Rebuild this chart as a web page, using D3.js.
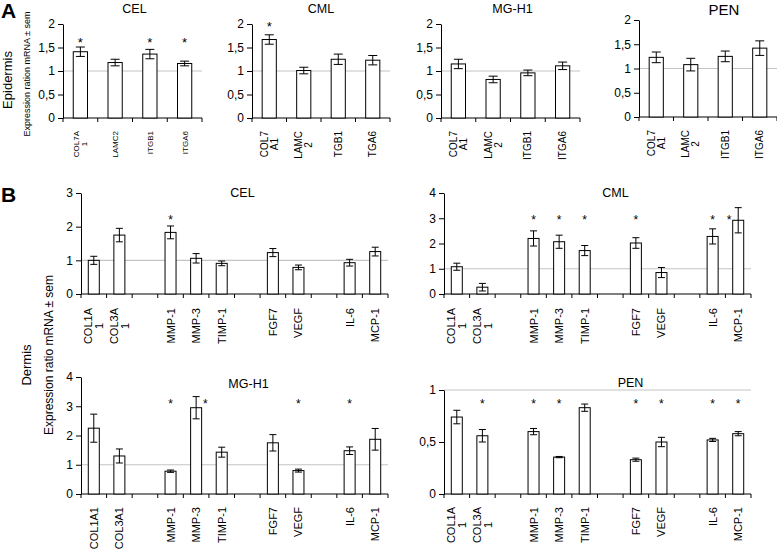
<!DOCTYPE html>
<html><head><meta charset="utf-8">
<script src="https://cdn.jsdelivr.net/npm/d3@7"></script>
<style>
body{margin:0;background:#fff}
svg{display:block}
text{font-family:"Liberation Sans",Arial,Helvetica,sans-serif;fill:#000}
</style>
</head><body>
<svg id="c" width="777" height="554"></svg>
<script>
// ---------- DATA ----------
// Panel A (Epidermis)
const aGenes = ["COL7A1","LAMC2","ITGB1","ITGA6"];
const aLabelsCEL = ["COL7A\n1","LAMC2","ITGB1","ITGA6"];
const aLabelsCML = ["COL7\nA1","LAMC\n2","TGB1","TGA6"];
const aLabelsMG  = ["COL7\nA1","LAMC\n2","ITGB1","ITGA6"];
const aLabelsPEN = ["COL7\nA1","LAMC\n2","ITGB1","ITGA6"];
const aYTicks = [0,0.5,1,1.5,2];
const aCEL = [1.41,1.18,1.36,1.16], aCELerr = [0.10,0.07,0.10,0.05], aCELsig = [1,0,1,1];
const aCML = [1.67,1.01,1.25,1.23], aCMLerr = [0.10,0.07,0.11,0.10], aCMLsig = [1,0,0,0];
const aMG  = [1.15,0.82,0.96,1.11], aMGerr  = [0.10,0.07,0.06,0.08], aMGsig  = [0,0,0,0];
const aPEN = [1.23,1.08,1.25,1.42], aPENerr = [0.11,0.13,0.11,0.15], aPENsig = [0,0,0,0];
const aSigLevel = [1.66, 2.0, 2.0, 2.0];

// Panel B (Dermis)
const bGenes = ["COL1A1","COL3A1","gap1","MMP-1","MMP-3","TIMP-1","gap2","FGF7","VEGF","gap3","IL-6","MCP-1"];
const bLabelsWrap = ["COL1A\n1","COL3A\n1","","MMP-1","MMP-3","TIMP-1","","FGF7","VEGF","","IL-6","MCP-1"];
const bLabelsFlat = ["COL1A1","COL3A1","","MMP-1","MMP-3","TIMP-1","","FGF7","VEGF","","IL-6","MCP-1"];
const bCEL = [1.00,1.75,null,1.83,1.06,0.91,null,1.23,0.79,null,0.93,1.26];
const bCELerr = [0.12,0.20,null,0.19,0.14,0.07,null,0.12,0.07,null,0.10,0.13];
const bCELsig = [0,0,0,1,0,0,0,0,0,0,0,0];
const bCML = [1.08,0.27,null,2.20,2.07,1.72,null,2.02,0.85,null,2.28,2.92];
const bCMLerr = [0.14,0.15,null,0.30,0.26,0.20,null,0.21,0.20,null,0.30,0.50];
const bCMLsig = [0,0,0,1,1,1,0,1,0,0,1,1];
const bMG = [2.25,1.30,null,0.78,2.95,1.43,null,1.75,0.80,null,1.48,1.87];
const bMGerr = [0.48,0.24,null,0.04,0.38,0.17,null,0.28,0.05,null,0.13,0.37];
const bMGsig = [0,0,0,1,1,0,0,0,1,0,1,0];
const bPEN = [0.74,0.56,null,0.60,0.355,0.83,null,0.33,0.50,null,0.52,0.58];
const bPENerr = [0.065,0.06,null,0.03,0.006,0.035,null,0.015,0.045,null,0.015,0.02];
const bPENsig = [0,1,0,1,1,0,0,1,1,0,1,1];
const bYTicksCEL = [0,1,2,3], bYTicksCML = [0,1,2,3,4], bYTicksMG = [0,1,2,3,4], bYTicksPEN = [0,0.5,1];
const bSigLevel = [2.28, 3.05, 3.16, 0.89];
const titles = ["CEL","CML","MG-H1","PEN"];

// ---------- DRAW ----------
const svg = d3.select("#c");
const fmt = v => String(v).replace(".", ",");

function rotLabel(g, x, yTop, text, fs) {
  const lines = text.split("\n");
  const n = lines.length, lh = fs * 0.98;
  const t = g.append("g").attr("transform", `translate(${x},${yTop}) rotate(-90)`);
  const nodes = lines.map((ln, i) => t.append("text")
    .attr("font-size", fs).attr("text-anchor", "middle")
    .attr("y", 0.36 * fs + (i - (n - 1) / 2) * lh).text(ln));
  const maxLen = d3.max(nodes, s => s.node().getComputedTextLength());
  nodes.forEach(s => s.attr("x", -maxLen / 2));
}

function chart(cfg) {
  const g = svg.append("g");
  const x = d3.scaleBand().domain(cfg.genes).range([cfg.x0, cfg.x1]).padding(0);
  const ymax = d3.max(cfg.ticks);
  const y = d3.scaleLinear().domain([0, ymax]).range([cfg.yBot, cfg.yTop]);
  const step = x.step();
  // reference line at 1
  g.append("line").attr("x1", cfg.x0).attr("x2", cfg.x1)
    .attr("y1", y(1)).attr("y2", y(1)).attr("stroke", "#c4c4c4").attr("stroke-width", 1.2);
  // y axis
  const ya = d3.axisLeft(y).tickValues(cfg.ticks).tickFormat(fmt).tickSize(5).tickSizeOuter(0).tickPadding(3);
  const yg = g.append("g").attr("transform", `translate(${cfg.x0},0)`).call(ya);
  yg.selectAll("text").attr("font-size", cfg.tickFs).attr("font-family", null);
  yg.selectAll("line,path").attr("stroke", "#000");
  // x axis
  g.append("line").attr("x1", cfg.x0).attr("x2", cfg.x1).attr("y1", y(0)).attr("y2", y(0)).attr("stroke", "#000");
  d3.range(cfg.genes.length + 1).forEach(i => {
    const xx = cfg.x0 + i * step;
    g.append("line").attr("x1", xx).attr("x2", xx).attr("y1", y(0)).attr("y2", y(0) + 4).attr("stroke", "#000");
  });
  const bw = step * cfg.barFrac, cap = cfg.cap;
  cfg.genes.forEach((gn, i) => {
    const v = cfg.vals[i];
    const cx = x(gn) + step / 2;
    if (v != null) {
      const e = cfg.errs[i];
      g.append("rect").attr("x", cx - bw / 2).attr("y", y(v)).attr("width", bw).attr("height", y(0) - y(v))
        .attr("fill", "#fff").attr("stroke", "#000").attr("stroke-width", 1);
      g.append("line").attr("x1", cx).attr("x2", cx).attr("y1", y(v + e)).attr("y2", y(v - e)).attr("stroke", "#000");
      [v + e, v - e].forEach(w => g.append("line").attr("x1", cx - cap / 2).attr("x2", cx + cap / 2)
        .attr("y1", y(w)).attr("y2", y(w)).attr("stroke", "#000"));
      if (cfg.sig[i]) {
        let sx = cx;
        if (v + e > cfg.sigLevel - 0.05 * ymax) sx += (i === cfg.genes.length - 1 ? -1 : 1) * step * 0.36;
        g.append("text").attr("x", sx).attr("y", y(cfg.sigLevel) + 0.57 * cfg.starFs)
          .attr("text-anchor", "middle").attr("font-size", cfg.starFs).text("*");
      }
    }
    const lab = cfg.labels[i];
    if (lab) rotLabel(g, cx, y(0) + cfg.labGap, lab, cfg.labFs);
  });
  g.append("text").attr("x", (cfg.x0 + cfg.x1) / 2 + cfg.titleDx).attr("y", cfg.titleY)
    .attr("text-anchor", "middle").attr("font-size", cfg.titleFs).text(cfg.title);
}

const aVals = [aCEL, aCML, aMG, aPEN], aErrs = [aCELerr, aCMLerr, aMGerr, aPENerr], aSigs = [aCELsig, aCMLsig, aMGsig, aPENsig];
const aLabels = [aLabelsCEL, aLabelsCML, aLabelsMG, aLabelsPEN];
const aLayout = [
  {x0: 63, x1: 202, yTop: 24, yBot: 118, titleDx: 2, titleY: 13, titleFs: 12.5, labFs: 8},
  {x0: 252, x1: 390, yTop: 24, yBot: 118, titleDx: 0, titleY: 13, titleFs: 12.5, labFs: 10},
  {x0: 441, x1: 580, yTop: 24, yBot: 118, titleDx: 2, titleY: 13, titleFs: 12.5, labFs: 10},
  {x0: 639, x1: 777, yTop: 20, yBot: 117, titleDx: 16, titleY: 15, titleFs: 15, labFs: 10}
];
aLayout.forEach((L, k) => chart(Object.assign({
  genes: aGenes, labels: aLabels[k], vals: aVals[k], errs: aErrs[k], sig: aSigs[k], sigLevel: aSigLevel[k],
  ticks: aYTicks, title: titles[k], tickFs: 12, barFrac: 0.41, cap: 9, starFs: 13, labGap: 13
}, L)));

const bVals = [bCEL, bCML, bMG, bPEN], bErrs = [bCELerr, bCMLerr, bMGerr, bPENerr], bSigs = [bCELsig, bCMLsig, bMGsig, bPENsig];
const bTicks = [bYTicksCEL, bYTicksCML, bYTicksMG, bYTicksPEN];
const bLabels = [bLabelsWrap, bLabelsWrap, bLabelsFlat, bLabelsWrap];
const bLayout = [
  {x0: 81, x1: 388, yTop: 193, yBot: 294, titleDx: 8, titleY: 197, labGap: 14},
  {x0: 444, x1: 751, yTop: 193, yBot: 294, titleDx: 18, titleY: 197, labGap: 14},
  {x0: 81, x1: 388, yTop: 377, yBot: 494, titleDx: 14, titleY: 388, labGap: 13},
  {x0: 444, x1: 751, yTop: 390, yBot: 494, titleDx: 33, titleY: 387, labGap: 13}
];
bLayout.forEach((L, k) => chart(Object.assign({
  genes: bGenes, labels: bLabels[k], vals: bVals[k], errs: bErrs[k], sig: bSigs[k], sigLevel: bSigLevel[k],
  ticks: bTicks[k], title: titles[k], tickFs: 12, titleFs: 12.5, barFrac: 0.43, cap: 7, starFs: 12, labFs: 11
}, L)));

// panel letters and side labels
svg.append("text").attr("x", 1).attr("y", 18).attr("font-size", 21).attr("font-weight", "bold").text("A");
svg.append("text").attr("x", 1).attr("y", 202).attr("font-size", 21).attr("font-weight", "bold").text("B");
function vtext(x, y, fs, t) {
  svg.append("text").attr("transform", `translate(${x},${y}) rotate(-90)`).attr("text-anchor", "middle")
    .attr("font-size", fs).text(t);
}
vtext(12, 80, 13, "Epidermis");
vtext(30, 74, 9, "Expression ration mRNA ± sem");
vtext(31, 365, 13, "Dermis");
vtext(53, 355, 12, "Expression ratio mRNA ± sem");
</script>
</body></html>
